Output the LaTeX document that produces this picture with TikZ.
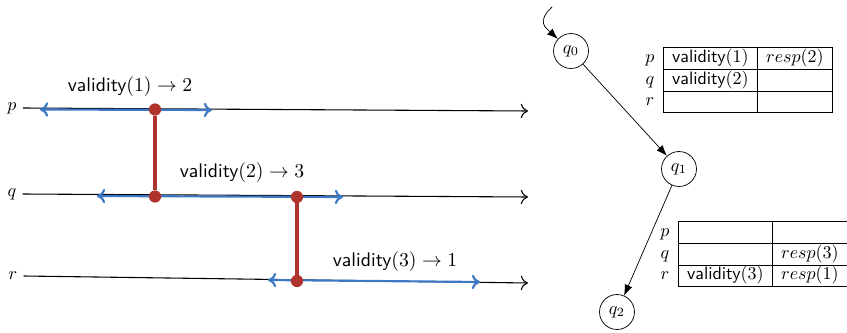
\documentclass[tikz,border=0pt]{standalone}
\usepackage{amsmath}
\usepackage{array}
\usepackage{xcolor}
\usepackage{tikz}
\usetikzlibrary{arrows.meta}
\definecolor{validblue}{RGB}{60,120,195}
\definecolor{linkred}{RGB}{175,50,45}
\newcolumntype{C}[1]{>{\centering\arraybackslash}p{#1}}
\setlength{\tabcolsep}{4.5pt}
\newcommand{\vld}[1]{\textsf{validity}$(#1)$}

\begin{document}
\begin{tikzpicture}[x=0.555pt,y=-0.555pt,
    timeline/.style={semithick,-{To[length=4pt,width=8pt]}},
    interval/.style={{To[length=4.5pt,width=8pt]}-{To[length=4.5pt,width=8pt]},line width=1.2pt,validblue},
    link/.style={line width=2pt,linkred},
    dot/.style={circle,fill=linkred,inner sep=0pt,minimum size=6.8pt},
    vlabel/.style={font=\fontsize{10.95}{13}\selectfont},
    state/.style={circle,draw,minimum size=19.4pt,inner sep=0pt},
    move/.style={-{Latex[length=6pt,width=4.5pt]}},
    board/.style={anchor=north east,inner sep=0pt}]
    \useasboundingbox (0,0) rectangle (847,333);

    % Processes
    \node (p) at (12,108) {$p$};
    \node (q) at (12,194) {$q$};
    \node (r) at (13,276) {$r$};
    \coordinate (pend) at (528,111);
    \coordinate (qend) at (528,197);
    \coordinate (rend) at (528,283);
    \draw[timeline] (p.east) -- (pend);
    \draw[timeline] (q.east) -- (qend);
    \draw[timeline] (r.east) -- (rend);

    % Validity intervals
    \coordinate (pa) at (40,109.5);
    \coordinate (pb) at (212,110);
    \coordinate (qa) at (97,196);
    \coordinate (qb) at (343,197);
    \coordinate (ra) at (268,280);
    \coordinate (rb) at (480,282);
    \draw[interval] (pa) -- (pb);
    \draw[interval] (qa) -- (qb);
    \draw[interval] (ra) -- (rb);
    \node[vlabel] (l1) at (130,87) {\vld{1}${}\to 2$};
    \node[vlabel] (l2) at (242,173) {\vld{2}${}\to 3$};
    \node[vlabel] (l3) at (395,262) {\vld{3}${}\to 1$};

    % Links between processes
    \node[dot] (d1) at (155,109.5) {};
    \node[dot] (d2) at (155,196.5) {};
    \node[dot] (d3) at (297,197) {};
    \node[dot] (d4) at (297,281) {};
    \draw[link] (d1) -- (d2);
    \draw[link] (d3) -- (d4);

    % Automaton
    \node[state] (q0) at (571,51) {$q_0$};
    \node[state] (q1) at (679,169) {$q_1$};
    \node[state] (q2) at (617,312) {$q_2$};
    \coordinate (init) at (552,7);
    \draw[move] (init) .. controls (536,22) and (546,28) .. (q0);
    \draw[move] (q0) -- (q1);
    \draw[move] (q1) -- (q2);

    % Tables
    \node[board] (tab1) at (833,47) {\begin{tabular}{c|C{43.2pt}|C{32pt}|}
        \cline{2-3}
        $p$ & \vld{1} & $resp(2)$ \\ \cline{2-3}
        $q$ & \vld{2} & \\ \cline{2-3}
        $r$ & & \\ \cline{2-3}
    \end{tabular}};
    \node[board] (tab2) at (848,221) {\begin{tabular}{c|C{43.2pt}|C{32pt}|}
        \cline{2-3}
        $p$ & & \\ \cline{2-3}
        $q$ & & $resp(3)$ \\ \cline{2-3}
        $r$ & \vld{3} & $resp(1)$ \\ \cline{2-3}
    \end{tabular}};
\end{tikzpicture}
\end{document}
